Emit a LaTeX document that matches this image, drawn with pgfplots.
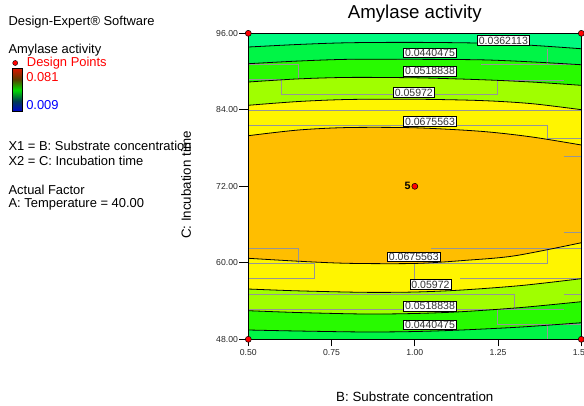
\documentclass[border=0pt]{standalone}
\usepackage{fontspec}
\setmainfont{Liberation Sans}
\usepackage{pgfplots}
\pgfplotsset{compat=1.18}
\usepgfplotslibrary{fillbetween}
\definecolor{cA}{RGB}{0,250,128}
\definecolor{cB}{RGB}{0,245,70}
\definecolor{cC}{RGB}{40,250,0}
\definecolor{cD}{RGB}{160,255,0}
\definecolor{cE}{RGB}{255,245,0}
\definecolor{cF}{RGB}{255,190,0}
\definecolor{gline}{RGB}{150,150,150}
\definecolor{cbRed}{RGB}{220,20,0}
\definecolor{cbBrown}{RGB}{90,60,0}
\definecolor{cbGreen}{RGB}{0,220,0}
\definecolor{cbTeal}{RGB}{0,60,80}
\definecolor{cbBlue}{RGB}{0,0,210}
\pgfdeclareverticalshading{cbar}{100bp}{color(0bp)=(cbBlue); color(25bp)=(cbBlue); color(37.5bp)=(cbTeal); color(50bp)=(cbGreen); color(62.5bp)=(cbBrown); color(75bp)=(cbRed); color(100bp)=(cbRed)}
\newcommand{\lf}{\fontsize{9.7}{11}\selectfont}
\begin{document}
\begin{tikzpicture}[x=0.75pt,y=-0.75pt]
% left panel text
\node[anchor=base west, inner sep=0pt, font=\lf] at (8.3,25) {Design-Expert® Software};
\node[anchor=base west, inner sep=0pt, font=\lf] at (8.3,53.3) {Amylase activity};
\shade[shading=cbar] (12.3,68.3) rectangle (22.7,111.7);
\draw[line width=1.1pt] (12.3,68.3) rectangle (22.7,111.7);
\node[anchor=base west, inner sep=0pt, font=\lf, text=red] at (26,81) {0.081};
\node[anchor=base west, inner sep=0pt, font=\lf, text=blue] at (26,109) {0.009};
\node[anchor=base west, inner sep=0pt, font=\lf] at (8.3,150.7) {X1 = B: Substrate concentration};
\node[anchor=base west, inner sep=0pt, font=\lf] at (8.3,165.7) {X2 = C: Incubation time};
\node[anchor=base west, inner sep=0pt, font=\lf] at (8.3,194) {Actual Factor};
\node[anchor=base west, inner sep=0pt, font=\lf] at (8.3,207.7) {A: Temperature = 40.00};
\begin{axis}[
  set layers, axis on top,
  at={(186.225pt,-254.475pt)}, anchor=south west,
  scale only axis, width=249.75pt, height=229.5pt,
  xmin=0.5, xmax=1.5, ymin=48, ymax=96,
  xtick={0.5,0.75,1,1.25,1.5}, xticklabels={0.50,0.75,1.00,1.25,1.50},
  ytick={48,60,72,84,96}, yticklabels={48.00,60.00,72.00,84.00,96.00},
  tick pos=left, tick align=outside,
  xtick style={/pgfplots/major tick length=5.25pt, black, line width=0.75pt},
  ytick style={/pgfplots/major tick length=6.75pt, black, line width=0.75pt},
  tick label style={font=\fontsize{6.5}{7}\selectfont, text=black!85},
  axis line style={line width=0.75pt},
  clip mode=individual,
  title={Amylase activity},
  title style={font=\fontsize{14}{16}\selectfont, at={(axis description cs:0.5,1.0385)}, anchor=center},
  xlabel={B: Substrate concentration},
  xlabel style={font=\fontsize{10}{12}\selectfont, at={(axis description cs:0.5,-0.1886)}, anchor=center},
  ylabel={C: Incubation time},
  ylabel style={font=\fontsize{10}{12}\selectfont, at={(axis description cs:-0.187,0.504)}, anchor=center},
  legend style={at={(-0.709,0.903)}, anchor=west, draw=none, fill=none, inner sep=0pt, font=\lf, text=red, legend cell align=left},
  legend image code/.code={\draw[fill=red,draw=black,line width=0.3pt] (0pt,0pt) circle (1.9pt); \path (6.6pt,0pt);},
]
\addlegendimage{only marks, mark=*}
\addlegendentry{Design Points}

% frame paths
\addplot[draw=none, name path=top, forget plot] coordinates {(0.5,96) (1.5,96)};
\addplot[draw=none, name path=bot, forget plot] coordinates {(0.5,48) (1.5,48)};

% gray leader lines
\addplot[gline, line width=0.45pt, forget plot] coordinates {(0.5,91.18) (0.65,91.18) (0.65,88.78)};
\addplot[gline, line width=0.45pt, forget plot] coordinates {(0.5,88.78) (0.598,88.78) (0.598,86.37) (1.247,86.37) (1.247,88.67) (1.447,88.67)};
\addplot[gline, line width=0.45pt, forget plot] coordinates {(1.198,91.18) (1.5,91.18)};
\addplot[gline, line width=0.45pt, forget plot] coordinates {(1.398,93.58) (1.398,91.18)};
\addplot[gline, line width=0.45pt, forget plot] coordinates {(0.5,83.92) (1.5,83.92)};
\addplot[gline, line width=0.45pt, forget plot] coordinates {(0.5,81.57) (1.398,81.57) (1.398,79.53) (1.5,79.53)};
\addplot[gline, line width=0.45pt, forget plot] coordinates {(1.447,76.75) (1.5,76.75)};
\addplot[gline, line width=0.45pt, forget plot] coordinates {(1.447,64.72) (1.5,64.72)};
\addplot[gline, line width=0.45pt, forget plot] coordinates {(0.5,62.27) (0.65,62.27) (0.65,59.92)};
\addplot[gline, line width=0.45pt, forget plot] coordinates {(1.049,62.27) (1.5,62.27)};
\addplot[gline, line width=0.45pt, forget plot] coordinates {(0.5,59.92) (0.697,59.92) (0.697,57.57) (0.5,57.57)};
\addplot[gline, line width=0.45pt, forget plot] coordinates {(1.0,59.92) (1.398,59.92) (1.398,62.27)};
\addplot[gline, line width=0.45pt, forget plot] coordinates {(0.998,59.92) (0.998,57.3)};
\addplot[gline, line width=0.45pt, forget plot] coordinates {(1.136,57.57) (1.5,57.57)};
\addplot[gline, line width=0.45pt, forget plot] coordinates {(0.5,55.11) (1.299,55.11) (1.299,52.71)};
\addplot[gline, line width=0.45pt, forget plot] coordinates {(1.447,55.11) (1.5,55.11)};
\addplot[gline, line width=0.45pt, forget plot] coordinates {(0.5,52.71) (1.447,52.71)};
\addplot[gline, line width=0.45pt, forget plot] coordinates {(1.247,52.71) (1.247,50.35) (1.5,50.35)};
\addplot[gline, line width=0.45pt, forget plot] coordinates {(1.398,50.35) (1.398,48)};

% contour lines (top half)
\addplot[black, line width=0.6pt, smooth, name path=A, forget plot] coordinates {(0.5,93.85) (0.65,94.25) (0.8,94.52) (1.0,94.58) (1.2,94.46) (1.35,94.12) (1.5,93.58)};
\addplot[black, line width=0.6pt, smooth, name path=B, forget plot] coordinates {(0.5,91.23) (0.65,91.65) (0.8,91.92) (1.0,91.92) (1.2,91.84) (1.35,91.52) (1.5,91.07)};
\addplot[black, line width=0.6pt, smooth, name path=C, forget plot] coordinates {(0.5,88.36) (0.65,88.85) (0.8,89.08) (1.0,89.02) (1.2,88.72) (1.35,88.36) (1.5,87.84)};
\addplot[black, line width=0.6pt, smooth, name path=D, forget plot] coordinates {(0.5,84.71) (0.65,85.30) (0.8,85.62) (1.0,85.66) (1.2,85.45) (1.35,84.97) (1.5,84.02)};
\addplot[black, line width=0.6pt, smooth, name path=E, forget plot] coordinates {(0.5,79.94) (0.65,80.83) (0.8,81.22) (1.0,81.18) (1.2,80.62) (1.35,79.75) (1.5,78.48)};
% contour lines (bottom half)
\addplot[black, line width=0.6pt, smooth, name path=E2, forget plot] coordinates {(0.5,60.71) (0.65,60.25) (0.8,59.92) (1.0,59.90) (1.15,60.38) (1.3,61.10) (1.5,63.15)};
\addplot[black, line width=0.6pt, smooth, name path=D2, forget plot] coordinates {(0.5,55.89) (0.65,55.60) (0.85,55.37) (1.0,55.42) (1.14,55.73) (1.32,56.44) (1.5,57.51)};
\addplot[black, line width=0.6pt, smooth, name path=C2, forget plot] coordinates {(0.5,52.49) (0.65,52.20) (0.85,51.97) (1.0,52.05) (1.14,52.33) (1.32,52.99) (1.5,53.90)};
\addplot[black, line width=0.6pt, smooth, name path=B2, forget plot] coordinates {(0.5,49.46) (0.65,49.30) (0.85,49.15) (1.0,49.22) (1.14,49.46) (1.32,49.93) (1.5,50.60)};

% filled bands
\addplot[cA, forget plot] fill between[of=A and top];
\addplot[cB, forget plot] fill between[of=B and A];
\addplot[cC, forget plot] fill between[of=C and B];
\addplot[cD, forget plot] fill between[of=D and C];
\addplot[cE, forget plot] fill between[of=E and D];
\addplot[cF, forget plot] fill between[of=E2 and E];
\addplot[cE, forget plot] fill between[of=D2 and E2];
\addplot[cD, forget plot] fill between[of=C2 and D2];
\addplot[cC, forget plot] fill between[of=B2 and C2];
\addplot[cB, forget plot] fill between[of=bot and B2];

% contour labels
\tikzset{clab/.style={fill=white, draw=black, line width=0.4pt, inner xsep=1.2pt, inner ysep=0.8pt, font=\fontsize{7.9}{8}\selectfont, text=black!80}}
\node[clab] at (axis cs:1.266,94.87) {0.0362113};
\node[clab] at (axis cs:1.0456,92.94) {0.0440475};
\node[clab] at (axis cs:1.0456,90.05) {0.0518838};
\node[clab] at (axis cs:0.997,86.71) {0.05972};
\node[clab] at (axis cs:1.0456,82.16) {0.0675563};
\node[clab] at (axis cs:0.997,60.96) {0.0675563};
\node[clab] at (axis cs:1.047,56.60) {0.05972};
\node[clab] at (axis cs:1.0456,53.17) {0.0518838};
\node[clab] at (axis cs:1.0456,50.27) {0.0440475};

% design points
\addplot[only marks, mark=*, mark size=2.25pt, mark options={fill=red, draw=black, line width=0.4pt}, on layer=axis foreground, forget plot] coordinates {(0.5,96) (1.5,96) (0.5,48) (1.5,48) (1.0,72)};
\node[anchor=east, inner sep=0pt, font=\bfseries\fontsize{8}{9}\selectfont] at (axis cs:0.988,72.1) {5};
\end{axis}
\pgfresetboundingbox
\path[use as bounding box] (0,0) rectangle (584,405);
\end{tikzpicture}
\end{document}
